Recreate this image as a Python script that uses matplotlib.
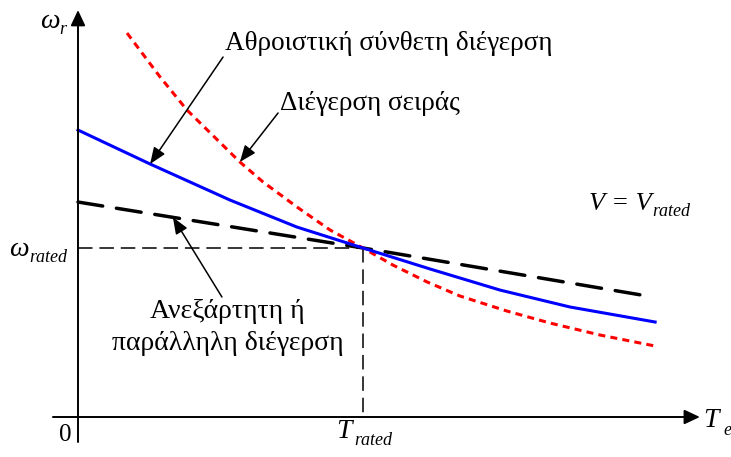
import numpy as np
import matplotlib
matplotlib.use("Agg")
import matplotlib.pyplot as plt

SERIF = ["Liberation Serif", "DejaVu Serif"]
plt.rcParams["font.family"] = SERIF

# torque / speed in per-unit of rated values (T_rated = 1, w_rated = 1)
compound_T = [0.0, 0.253, 0.533, 0.768, 1.0, 1.235, 1.481, 1.726, 2.025]
compound_w = [1.698, 1.497, 1.284, 1.124, 1.0, 0.876, 0.751, 0.651, 0.562]

series_T = [0.172, 0.288, 0.382, 0.568, 0.649, 0.768, 0.884, 1.0,
            1.105, 1.225, 1.340, 1.505, 1.656, 1.832, 2.025]
series_w = [2.272, 2.012, 1.817, 1.509, 1.391, 1.243, 1.107, 1.0,
            0.899, 0.799, 0.716, 0.627, 0.556, 0.485, 0.420]

shunt_T = [0.0, 1.0, 2.018]
shunt_w = [1.272, 1.0, 0.710]

T_rated = 1.0
w_rated = 1.0

# ---- figure: one axes filling the canvas, per-unit -> pixel mapping ----
W, H = 731, 457
x0, y0 = 78, 417        # origin in pixels
sx, sy = 285, 169       # pixels per unit
fig = plt.figure(figsize=(W / 100, H / 100), dpi=100)
ax = fig.add_axes([0, 0, 1, 1])
ax.set_xlim(-x0 / sx, (W - x0) / sx)
ax.set_ylim((y0 - H) / sy, y0 / sy)
ax.axis("off")


def at(xp, yp):
    """pixel position (from top-left) -> per-unit data coords"""
    return (xp - x0) / sx, (y0 - yp) / sy


def sym(xp, yp, main, sub, sub_dx, sub_dy, size=20, sub_size=13):
    """italic symbol with an italic subscript, placed by baseline"""
    ax.text(*at(xp, yp), main, fontsize=size, style="italic", family=SERIF,
            ha="left", va="baseline")
    ax.text(*at(xp + sub_dx, yp + sub_dy), sub, fontsize=sub_size,
            style="italic", family=SERIF, ha="left", va="baseline")


# axes with arrow heads
axis_arrow = dict(arrowstyle="-|>,head_length=0.47,head_width=0.22",
                  mutation_scale=20, lw=1.4, color="black",
                  shrinkA=0, shrinkB=0)
ax.annotate("", xy=(2.182, 0), xytext=(-0.088, 0), arrowprops=axis_arrow)
ax.annotate("", xy=(0, 2.408), xytext=(0, -0.148), arrowprops=axis_arrow)

# rated point guide lines
ax.plot([0, T_rated], [w_rated, w_rated], color="black", lw=1.1,
        dashes=(9.5, 4.5))
ax.plot([T_rated, T_rated], [w_rated, 0], color="black", lw=1.1,
        dashes=(9.5, 4.5))

# characteristic curves
ax.plot(shunt_T, shunt_w, color="black", lw=2.5, dashes=(7.2, 4.0),
        dash_capstyle="round")
ax.plot(series_T, series_w, color="#ff0000", lw=2.2, dashes=(2.3, 1.7))
ax.plot(compound_T, compound_w, color="#0000ff", lw=2.2)

# labels with pointer arrows
lab_arrow = dict(arrowstyle="-|>,head_length=0.5,head_width=0.2",
                 mutation_scale=20, lw=1.1, color="black",
                 shrinkA=0, shrinkB=0)

ax.text(0.516, 2.172, "Αθροιστική σύνθετη διέγερση", fontsize=19.5,
        family=SERIF, ha="left", va="baseline")
ax.annotate("", xy=(compound_T[1], compound_w[1]), xytext=(0.509, 2.130),
            arrowprops=lab_arrow)

ax.text(0.709, 1.817, "Διέγερση σειράς", fontsize=19.5, family=SERIF,
        ha="left", va="baseline")
ax.annotate("", xy=(series_T[3], series_w[3]), xytext=(0.702, 1.799),
            arrowprops=lab_arrow)

ax.text(0.523, 0.586, "Ανεξάρτητη ή", fontsize=20, family=SERIF,
        ha="center", va="baseline")
ax.text(0.526, 0.396, "παράλληλη διέγερση", fontsize=20, family=SERIF,
        ha="center", va="baseline")
tip_T = 0.333
ax.annotate("", xy=(tip_T, np.interp(tip_T, shunt_T, shunt_w)),
            xytext=(0.505, 0.710), arrowprops=lab_arrow)

# axis symbols
sym(40, 28, "ω", "r", 19, 6)
sym(9, 256, "ω", "rated", 20, 6)
sym(336, 438, "T", "rated", 18, 7)
sym(703, 427, "T", "e", 20, 8)
ax.text(*at(589, 210), "V = V", fontsize=19, style="italic", family=SERIF,
        ha="left", va="baseline")
ax.text(*at(652, 216), "rated", fontsize=13, style="italic", family=SERIF,
        ha="left", va="baseline")
ax.text(*at(59, 441), "0", fontsize=18, family=SERIF, ha="left",
        va="baseline")

fig.savefig("out.png", dpi=100)
